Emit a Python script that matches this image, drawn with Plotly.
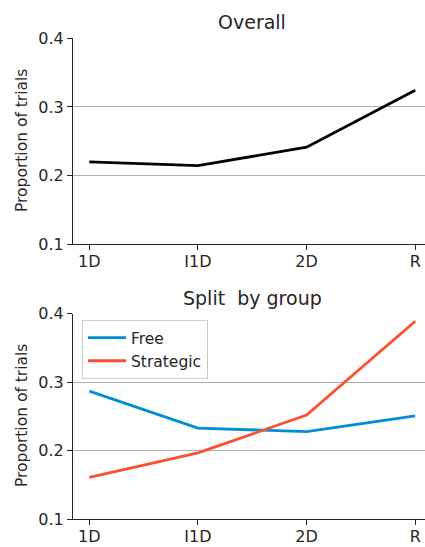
import plotly.graph_objects as go

categories = ["1D", "I1D", "2D", "R"]
overall = [0.220, 0.2145, 0.2415, 0.3245]
free = [0.287, 0.233, 0.228, 0.251]
strategic = [0.161, 0.197, 0.252, 0.389]
y_ticks = [0.1, 0.2, 0.3, 0.4]

W, H = 425, 547
L = 73
FONT = "DejaVu Sans"

fig = go.Figure()
fig.add_trace(go.Scatter(x=categories, y=overall, mode="lines",
                         line=dict(color="black", width=2.8),
                         showlegend=False, xaxis="x", yaxis="y"))
fig.add_trace(go.Scatter(x=categories, y=free, mode="lines", name="Free",
                         line=dict(color="#008fd5", width=2.8),
                         xaxis="x2", yaxis="y2"))
fig.add_trace(go.Scatter(x=categories, y=strategic, mode="lines", name="Strategic",
                         line=dict(color="#fc4f30", width=2.8),
                         xaxis="x2", yaxis="y2"))

def xax(anchor):
    return dict(type="category", categoryorder="array", categoryarray=categories,
                range=[-0.15, 3.09], anchor=anchor, showgrid=False, automargin=False,
                showline=True, linecolor="#262626", linewidth=1.2,
                ticks="outside", ticklen=5, tickcolor="#262626",
                ticklabelstandoff=-3,
                tickfont=dict(family=FONT, size=16, color="#262626"),
                zeroline=False)

def yax(anchor, dom):
    return dict(range=[0.1, 0.4], domain=dom, anchor=anchor, automargin=False,
                tickvals=y_ticks, ticktext=[f"{v:.1f}" for v in y_ticks],
                showgrid=True, gridcolor="#b0b0b0", gridwidth=1,
                showline=True, linecolor="#262626", linewidth=1.2,
                ticks="outside", ticklen=5, tickcolor="#262626",
                tickfont=dict(family=FONT, size=16, color="#262626"),
                zeroline=False)

top_dom = [1 - 244.3 / H, 1 - 38.3 / H]
bot_dom = [1 - 519.3 / H, 1 - 313.7 / H]

fig.update_layout(
    width=W, height=H,
    margin=dict(l=L, r=0, t=0, b=0, autoexpand=False),
    paper_bgcolor="white", plot_bgcolor="white",
    xaxis=xax("y"), yaxis=yax("x", top_dom),
    xaxis2=xax("y2"), yaxis2=yax("x2", bot_dom),
    legend=dict(x=(82 - L) / (W - L), y=1 - 320 / H, xanchor="left", yanchor="top",
                bgcolor="rgba(255,255,255,0.8)", bordercolor="#cccccc", borderwidth=1,
                font=dict(family=FONT, size=15.5, color="#262626"),
                tracegroupgap=0, itemwidth=38),
    font=dict(family=FONT, color="#262626"),
    annotations=[
        dict(text="Overall", x=(252 - L) / (W - L), y=1 - 22 / H, xref="paper", yref="paper",
             showarrow=False, font=dict(family=FONT, size=19, color="#262626"),
             xanchor="center", yanchor="middle"),
        dict(text="Split  by group", x=(252 - L) / (W - L), y=1 - 298 / H, xref="paper", yref="paper",
             showarrow=False, font=dict(family=FONT, size=19, color="#262626"),
             xanchor="center", yanchor="middle"),
        dict(text="Proportion of trials", x=(22 - L) / (W - L), y=1 - 141 / H,
             xref="paper", yref="paper", textangle=-90, showarrow=False,
             font=dict(family=FONT, size=15.5, color="#262626"),
             xanchor="center", yanchor="middle"),
        dict(text="Proportion of trials", x=(22 - L) / (W - L), y=1 - 416 / H,
             xref="paper", yref="paper", textangle=-90, showarrow=False,
             font=dict(family=FONT, size=15.5, color="#262626"),
             xanchor="center", yanchor="middle"),
    ],
)

fig.write_html("out.html", config={"displayModeBar": False},
               post_script="document.body.style.margin='0';document.body.style.overflow='hidden';")
